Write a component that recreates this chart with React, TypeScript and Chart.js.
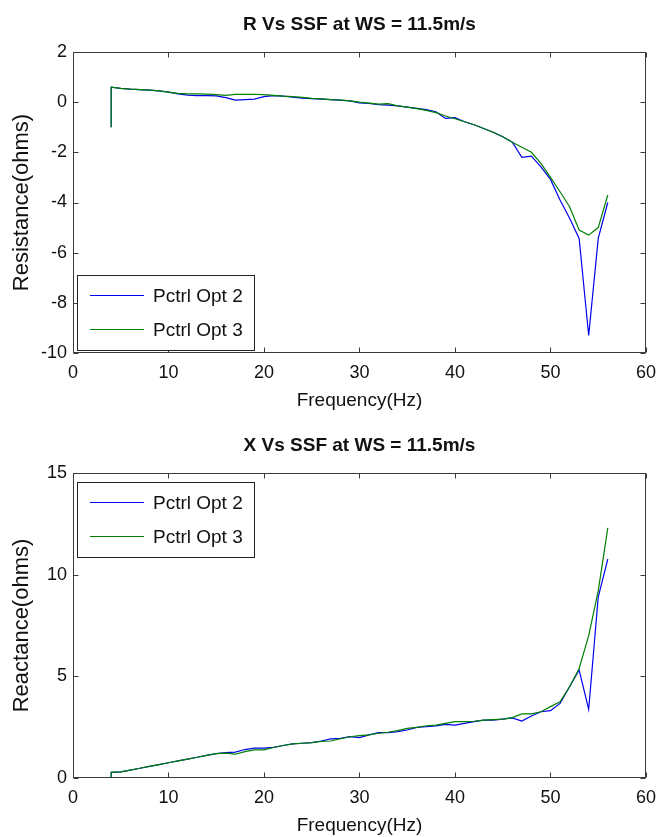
import React, { useEffect, useRef } from 'react';
import { Chart, registerables } from 'chart.js';

Chart.register(...registerables);

// ---- data ----
const freqHz = [4, 4, 5, 6, 7, 8, 9, 10, 11, 12, 13, 14, 15, 16, 17, 18, 19, 20, 21, 22, 23, 24, 25, 26, 27, 28, 29, 30, 31, 32, 33, 34, 35, 36, 37, 38, 39, 40, 41, 42, 43, 44, 45, 46, 47, 48, 49, 50, 51, 52, 53, 54, 55, 56];

const resistanceOpt2 = [-1.0, 0.6, 0.55, 0.52, 0.5, 0.48, 0.45, 0.4,
  0.33, 0.28, 0.26, 0.26, 0.25, 0.18, 0.08, 0.1, 0.12, 0.22,
  0.26, 0.24, 0.2, 0.16, 0.14, 0.12, 0.1, 0.08, 0.05, -0.03,
  -0.05, -0.1, -0.12, -0.15, -0.2, -0.25, -0.3, -0.38, -0.65, -0.62,
  -0.78, -0.9, -1.05, -1.2, -1.38, -1.6, -2.2, -2.15, -2.58, -3.08,
  -3.9, -4.63, -5.43, -9.3, -5.43, -4.0];

const resistanceOpt3 = [-1.0, 0.6, 0.55, 0.52, 0.5, 0.48, 0.45, 0.4,
  0.35, 0.33, 0.33, 0.32, 0.3, 0.27, 0.31, 0.31, 0.31, 0.3,
  0.27, 0.24, 0.22, 0.19, 0.15, 0.13, 0.1, 0.08, 0.05, 0.0,
  -0.04, -0.08, -0.06, -0.15, -0.2, -0.26, -0.33, -0.42, -0.55, -0.66,
  -0.78, -0.9, -1.05, -1.2, -1.38, -1.6, -1.8, -2.0, -2.44, -3.0,
  -3.57, -4.17, -5.1, -5.3, -5.0, -3.7];

const reactanceOpt2 = [0, 0.28, 0.3, 0.39, 0.48, 0.57, 0.66, 0.75,
  0.84, 0.93, 1.02, 1.11, 1.2, 1.25, 1.27, 1.4, 1.47, 1.47,
  1.51, 1.6, 1.68, 1.71, 1.74, 1.82, 1.92, 1.95, 2.03, 1.99,
  2.12, 2.23, 2.23, 2.28, 2.36, 2.49, 2.52, 2.56, 2.64, 2.6,
  2.69, 2.77, 2.85, 2.85, 2.9, 2.96, 2.8, 3.05, 3.26, 3.31,
  3.67, 4.49, 5.31, 3.38, 8.9, 10.76];

const reactanceOpt3 = [0, 0.28, 0.3, 0.39, 0.48, 0.57, 0.66, 0.75,
  0.84, 0.93, 1.02, 1.11, 1.2, 1.22, 1.17, 1.3, 1.38, 1.38,
  1.5, 1.6, 1.68, 1.71, 1.74, 1.8, 1.82, 1.93, 2.03, 2.08,
  2.12, 2.2, 2.25, 2.33, 2.44, 2.49, 2.57, 2.6, 2.69, 2.77,
  2.77, 2.79, 2.85, 2.87, 2.9, 2.97, 3.15, 3.15, 3.26, 3.51,
  3.75, 4.49, 5.39, 7.0, 9.2, 12.3];

const seriesNames = ['Pctrl Opt 2', 'Pctrl Opt 3'];
const seriesColors = ['rgb(0,0,235)', 'rgb(0,128,0)'];

const xTicksHz = [0, 10, 20, 30, 40, 50, 60];
const rTicks = [-10, -8, -6, -4, -2, 0, 2];
const xReactTicks = [0, 5, 10, 15];

const FONT = '"Liberation Sans", Arial, Helvetica, sans-serif';
const TEXT = '#111';

const framePlugin = {
  id: 'frame',
  afterDatasetsDraw(chart: any) {
    const { ctx, chartArea: a, scales } = chart;
    const l = Math.round(a.left) + 0.5, r = Math.round(a.right) - 0.5;
    const t = Math.round(a.top) + 0.5, b = Math.round(a.bottom) - 0.5;
    ctx.save();
    ctx.strokeStyle = '#3a3a3a';
    ctx.lineWidth = 1;
    ctx.strokeRect(l, t, r - l, b - t);
    const tl = 5;
    ctx.beginPath();
    scales.x.ticks.forEach((tk: any) => {
      const px = Math.round(scales.x.getPixelForValue(tk.value)) + 0.5;
      ctx.moveTo(px, b); ctx.lineTo(px, b - tl);
      ctx.moveTo(px, t); ctx.lineTo(px, t + tl);
    });
    scales.y.ticks.forEach((tk: any) => {
      const py = Math.round(scales.y.getPixelForValue(tk.value)) + 0.5;
      ctx.moveTo(l, py); ctx.lineTo(l + tl, py);
      ctx.moveTo(r, py); ctx.lineTo(r - tl, py);
    });
    ctx.stroke();
    ctx.restore();
  },
};

const titleLegendPlugin = {
  id: 'titleLegend',
  afterDraw(chart: any, _args: any, opts: any) {
    const { ctx, chartArea: a } = chart;
    ctx.save();
    // title
    ctx.fillStyle = TEXT;
    ctx.font = `bold 19px ${FONT}`;
    ctx.textAlign = 'center';
    ctx.textBaseline = 'middle';
    ctx.fillText(opts.title, (a.left + a.right) / 2, a.top - 27);
    // legend box
    const bx = Math.round(a.left + 4);
    const bw = 177;
    const bh = 75;
    const by = Math.round(opts.legendAt === 'bottom' ? a.bottom - 3 - bh : a.top + 9);
    ctx.fillStyle = '#fff';
    ctx.fillRect(bx, by, bw, bh);
    ctx.strokeStyle = '#222';
    ctx.lineWidth = 1;
    ctx.strokeRect(bx + 0.5, by + 0.5, bw, bh);
    ctx.font = `19px ${FONT}`;
    ctx.textAlign = 'left';
    seriesNames.forEach((name, i) => {
      const ry = by + 20 + i * 34 + 0.5;
      ctx.strokeStyle = seriesColors[i];
      ctx.lineWidth = 1;
      ctx.beginPath();
      ctx.moveTo(bx + 13, ry);
      ctx.lineTo(bx + 67, ry);
      ctx.stroke();
      ctx.fillStyle = TEXT;
      ctx.fillText(name, bx + 76, ry + 1);
    });
    ctx.restore();
  },
};

type Props = {
  width: number;
  height: number;
  padTop: number;
  xHeight: number;
  xTitlePad: number;
  yMin: number;
  yMax: number;
  yTicks: number[];
  yTitle: string;
  title: string;
  legendAt: 'top' | 'bottom';
  s2: number[];
  s3: number[];
};

function PlotPanel(p: Props) {
  const ref = useRef<HTMLCanvasElement | null>(null);
  useEffect(() => {
    if (!ref.current) return;
    const mk = (ys: number[]) => freqHz.map((x, i) => ({ x, y: ys[i] }));
    const chart = new Chart(ref.current, {
      type: 'line',
      data: {
        datasets: [
          { label: seriesNames[0], data: mk(p.s2), borderColor: seriesColors[0], borderWidth: 1.2, pointRadius: 0, fill: false, order: 1 },
          { label: seriesNames[1], data: mk(p.s3), borderColor: seriesColors[1], borderWidth: 1.2, pointRadius: 0, fill: false, order: 0 },
        ],
      },
      options: {
        animation: false,
        responsive: false,
        maintainAspectRatio: false,
        devicePixelRatio: 1,
        layout: { padding: { left: 0, top: p.padTop, right: 13, bottom: 0 } },
        plugins: {
          legend: { display: false },
          title: { display: false },
          tooltip: { enabled: false },
          titleLegend: { title: p.title, legendAt: p.legendAt },
        } as any,
        scales: {
          x: {
            type: 'linear',
            min: 0,
            max: 60,
            afterBuildTicks: (s: any) => { s.ticks = xTicksHz.map((v) => ({ value: v })); },
            ticks: { font: { family: FONT, size: 18 }, color: TEXT, padding: 9, maxRotation: 0, autoSkip: false },
            grid: { display: false, drawTicks: false },
            border: { display: false },
            title: { display: true, text: 'Frequency(Hz)', color: TEXT, font: { family: FONT, size: 19 }, padding: { top: 0, bottom: p.xTitlePad } },
            afterFit: (s: any) => { s.height = p.xHeight; },
          },
          y: {
            type: 'linear',
            min: p.yMin,
            max: p.yMax,
            afterBuildTicks: (s: any) => { s.ticks = p.yTicks.map((v) => ({ value: v })); },
            ticks: { font: { family: FONT, size: 18 }, color: TEXT, padding: 6, autoSkip: false },
            grid: { display: false, drawTicks: false },
            border: { display: false },
            title: { display: true, text: p.yTitle, color: TEXT, font: { family: FONT, size: 22 }, padding: { top: 9, bottom: 0 } },
            afterFit: (s: any) => { s.width = 73; },
          },
        },
      } as any,
      plugins: [framePlugin, titleLegendPlugin],
    });
    return () => chart.destroy();
  }, []);
  return <canvas ref={ref} width={p.width} height={p.height} style={{ display: 'block', width: p.width, height: p.height }} />;
}

export default function App() {
  return (
    <div style={{ position: 'absolute', left: 0, top: 0, width: 665, height: 837, background: '#fff' }}>
      <div style={{ position: 'absolute', left: 0, top: 0 }}>
        <PlotPanel width={665} height={420} padTop={52} xHeight={67} xTitlePad={8}
          yMin={-10} yMax={2} yTicks={rTicks} yTitle="Resistance(ohms)"
          title="R Vs SSF at WS = 11.5m/s" legendAt="bottom" s2={resistanceOpt2} s3={resistanceOpt3} />
      </div>
      <div style={{ position: 'absolute', left: 0, top: 420 }}>
        <PlotPanel width={665} height={417} padTop={53} xHeight={59} xTitlePad={0}
          yMin={0} yMax={15} yTicks={xReactTicks} yTitle="Reactance(ohms)"
          title="X Vs SSF at WS = 11.5m/s" legendAt="top" s2={reactanceOpt2} s3={reactanceOpt3} />
      </div>
    </div>
  );
}
